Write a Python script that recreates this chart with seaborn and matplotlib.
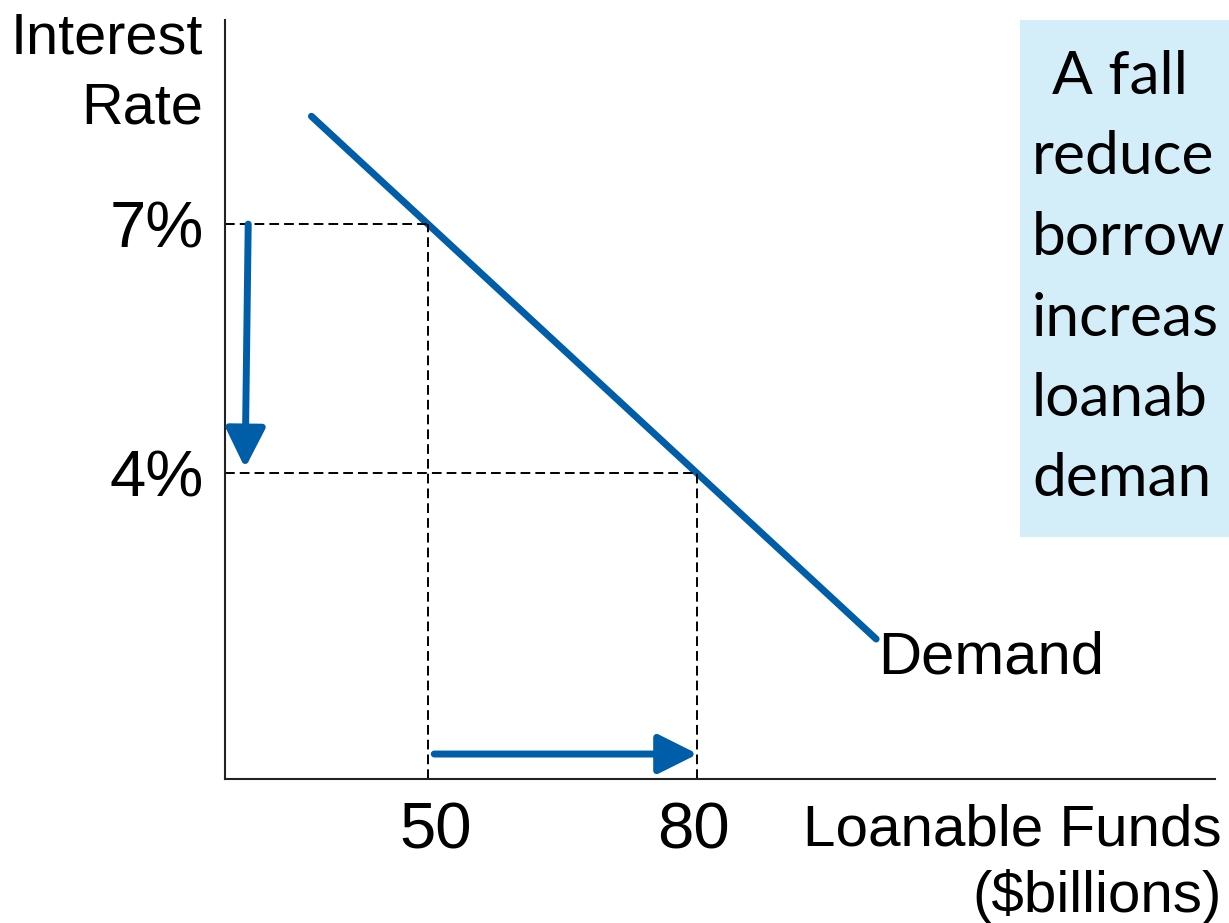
import matplotlib
matplotlib.use("Agg")
import matplotlib.pyplot as plt
from matplotlib.patches import Rectangle
from matplotlib.transforms import ScaledTranslation
import seaborn as sns
import pandas as pd

# Loanable funds demand curve
demand_x = [37, 100]
demand_y = [8.3, 2.0]

# Equilibrium points: (quantity, rate)
rate_high, rate_low = 7, 4
qty_low, qty_high = 50, 80

x_ticks = [50, 80]
x_tick_labels = ["50", "80"]
y_ticks = [4, 7]
y_tick_labels = ["4%", "7%"]

note_lines = ["A fall", "reduce", "borrow", "increas", "loanab", "deman"]

BLUE = "#005EA8"
W, H = 1229, 923

sns.set_theme(style="white")
plt.rcParams["font.family"] = ["Liberation Sans", "DejaVu Sans"]

fig = plt.figure(figsize=(W / 100, H / 100), dpi=100)
ax = fig.add_axes([225 / W, 1 - 779 / H, 990 / W, 759 / H])

df = pd.DataFrame({"q": demand_x, "r": demand_y})
sns.lineplot(data=df, x="q", y="r", ax=ax, color=BLUE, lw=5, sort=False)

xmin, ymin = 27.36, 0.313
ax.set_xlim(xmin, 137.8)
ax.set_ylim(ymin, 9.46)

dash_kw = dict(color="black", lw=1.4, dashes=(5.0, 2.6))
ax.plot([xmin, qty_low], [rate_high, rate_high], **dash_kw)
ax.plot([xmin, qty_high], [rate_low, rate_low], **dash_kw)
ax.plot([qty_low, qty_low], [ymin, rate_high], **dash_kw)
ax.plot([qty_high, qty_high], [ymin, rate_low], **dash_kw)

arrow_kw = dict(arrowstyle="-|>,head_length=24,head_width=12", color=BLUE,
                lw=5, shrinkA=0, shrinkB=0, mutation_scale=1)
ax.annotate("", xy=(29.6, rate_low + 0.06), xytext=(29.95, rate_high),
            arrowprops=arrow_kw)
ax.annotate("", xy=(qty_high + 0.1, 0.614), xytext=(qty_low + 0.7, 0.614),
            arrowprops=arrow_kw)

for side in ["top", "right"]:
    ax.spines[side].set_visible(False)
for side in ["left", "bottom"]:
    ax.spines[side].set_color("#222222")
    ax.spines[side].set_linewidth(1.5)

ax.set_xticks(x_ticks)
ax.set_xticklabels(x_tick_labels)
ax.set_yticks(y_ticks)
ax.set_yticklabels(y_tick_labels)
ax.tick_params(axis="both", length=0, labelsize=47, colors="black")
ax.tick_params(axis="y", pad=15)
ax.tick_params(axis="x", pad=16)
ax.set_xlabel("")
ax.set_ylabel("")

# nudge the quantity labels slightly
for lab, dx in zip(ax.get_xticklabels(), [8, -3]):
    lab.set_transform(lab.get_transform()
                      + ScaledTranslation(dx / 100, 0, fig.dpi_scale_trans))


def px_text(x, y, s, **kw):
    fig.text(x / W, 1 - y / H, s, va="baseline", color="black", **kw)


px_text(878, 674, "Demand", fontsize=43, ha="left")
px_text(203, 53, "Interest", fontsize=41.5, ha="right")
px_text(203, 124, "Rate", fontsize=41.5, ha="right")
px_text(1222, 845, "Loanable Funds", fontsize=42, ha="right")
px_text(1222, 912, "($billions)", fontsize=42, ha="right")

fig.patches.append(Rectangle((1020 / W, 1 - 537 / H), 0.2, 517 / H,
                             transform=fig.transFigure, facecolor="#D3EEF8",
                             edgecolor="none", zorder=0))
for i, line in enumerate(note_lines):
    x0 = 1052 if i == 0 else 1032
    px_text(x0, 94 + 80.5 * i, line, fontsize=43.5,
            family=["Lato", "DejaVu Sans"], ha="left")

fig.savefig("out.png", dpi=100)
